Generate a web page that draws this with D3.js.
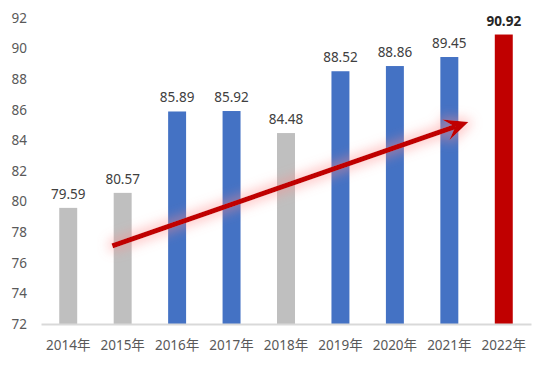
<!DOCTYPE html>
<html><head><meta charset="utf-8">
<script src="https://cdn.jsdelivr.net/npm/d3@7"></script>
<style>body{margin:0;background:#fff}svg{display:block}</style>
</head><body>
<svg id="c" width="550" height="367"></svg>
<script>
const years = ["2014年","2015年","2016年","2017年","2018年","2019年","2020年","2021年","2022年"];
const values = [79.59,80.57,85.89,85.92,84.48,88.52,88.86,89.45,90.92];
const colorKeys = ["gray","gray","blue","blue","gray","blue","blue","blue","red"];
const yTicks = [72,74,76,78,80,82,84,86,88,90,92];
const palette = {gray:"#bfbfbf", blue:"#4472c4", red:"#c00000"};
// trend arrow endpoints in data space (category index, value)
const arrowStart = [0.81, 77.1];
const arrowEnd = [7.35, 85.2];

const svg = d3.select("#c");
const font = "'Noto Sans','Noto Sans CJK SC',sans-serif";
const x = d3.scaleBand().domain(years).range([41,531]).paddingInner(0.67).paddingOuter(0.335);
const y = d3.scaleLinear().domain([72,92]).range([324,18]);
const xi = i => 41 + (490/9)*(i+0.5);

// y axis labels
const yAxis = d3.axisLeft(y).tickValues(yTicks).tickSize(0).tickPadding(0).tickFormat(d3.format("d"));
const gy = svg.append("g").attr("transform","translate(27,0)").call(yAxis);
gy.select(".domain").remove();
gy.selectAll("text").attr("font-family",font).attr("font-size",13.5).attr("fill","#595959");

// bars
svg.append("g").selectAll("rect").data(values).join("rect")
  .attr("x",(d,i)=>x(years[i])).attr("width",x.bandwidth())
  .attr("y",d=>y(d)).attr("height",d=>y(72)-y(d))
  .attr("fill",(d,i)=>palette[colorKeys[i]]);

// x axis
const xAxis = d3.axisBottom(x).tickSize(0).tickPadding(16);
const gx = svg.append("g").attr("transform","translate(0,324)").call(xAxis);
gx.select(".domain").attr("stroke","#d9d9d9").attr("stroke-width",2);
gx.selectAll("text").attr("font-family",font).attr("font-size",13.5).attr("fill","#595959");

// value labels
svg.append("g").selectAll("text").data(values).join("text")
  .attr("x",(d,i)=>x(years[i])+x.bandwidth()/2)
  .attr("y",d=>y(d)-9)
  .attr("text-anchor","middle")
  .attr("font-family",font).attr("font-size",13.5)
  .attr("font-weight",(d,i)=>i===values.length-1?"bold":"normal")
  .attr("fill",(d,i)=>i===values.length-1?"#262626":"#404040")
  .text(d=>d.toFixed(2));

// glow filter
const defs = svg.append("defs");
const f = defs.append("filter").attr("id","glow").attr("filterUnits","userSpaceOnUse")
  .attr("x",0).attr("y",0).attr("width",550).attr("height",367);
f.append("feMorphology").attr("in","SourceAlpha").attr("operator","dilate").attr("radius",3).attr("result","d");
f.append("feGaussianBlur").attr("in","d").attr("stdDeviation",6).attr("result","b");
f.append("feColorMatrix").attr("in","b").attr("type","matrix")
  .attr("values","0 0 0 0 1  0 0 0 0 0.25  0 0 0 0 0.25  0 0 0 0.45 0").attr("result","g");
const m = f.append("feMerge");
m.append("feMergeNode").attr("in","g");
m.append("feMergeNode").attr("in","SourceGraphic");

// arrow
const x0 = xi(arrowStart[0]), y0 = y(arrowStart[1]);
const x1 = xi(arrowEnd[0]), y1 = y(arrowEnd[1]);
const ang = Math.atan2(y1-y0, x1-x0);
const L = 24, W = 11, notch = 14;
const pt = (d,s)=>[x1 - d*Math.cos(ang) - s*Math.sin(ang), y1 - d*Math.sin(ang) + s*Math.cos(ang)];
const ga = svg.append("g").attr("filter","url(#glow)");
const lineEnd = pt(notch,0);
ga.append("line").attr("x1",x0).attr("y1",y0).attr("x2",lineEnd[0]).attr("y2",lineEnd[1])
  .attr("stroke","#c00000").attr("stroke-width",5);
const head = [[x1,y1], pt(L,W), pt(notch,0), pt(L,-W)];
ga.append("path").attr("d",d3.line()(head)+"Z").attr("fill","#c00000");
</script>
</body></html>
